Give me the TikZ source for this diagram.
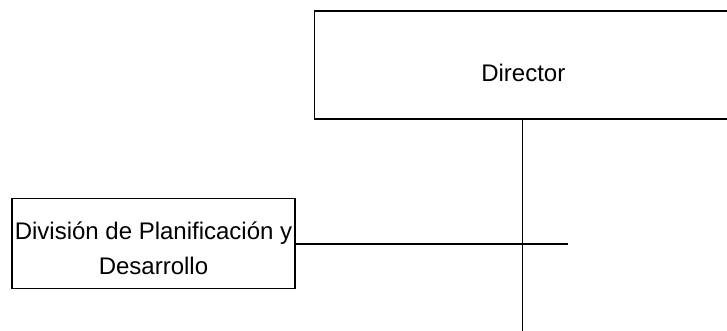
\documentclass[tikz,border=0pt]{standalone}
\usepackage{fontspec}
\setmainfont{Liberation Sans}
\begin{document}
\begin{tikzpicture}[x=1pt,y=1pt,
  orgbox/.style={draw=black, line width=1.6pt, inner sep=0pt, align=center,
    font=\fontsize{24}{35}\selectfont},
  link/.style={draw=black, line width=2pt},
  trunk/.style={draw=black, line width=0.9pt}]
\useasboundingbox (0,0) rectangle (727,330);
\clip (0,0) rectangle (727,330);
\node[orgbox, minimum width=417.3pt, minimum height=108pt, text height=33pt, text depth=0pt]
  (dir) at (523.3,265) {Director};
\node[orgbox, minimum width=283pt, minimum height=90pt, text height=61.6pt, text depth=0pt]
  (dpd) at (153.5,86.5) {División de Planificación y\\Desarrollo};
\coordinate (hend) at (568,86.5);
\coordinate (vtop) at (522,211);
\coordinate (vbot) at (522,-2);
\draw[link] (dpd.east) -- (hend);
\draw[trunk] (vtop) -- (vbot);
\end{tikzpicture}
\end{document}
